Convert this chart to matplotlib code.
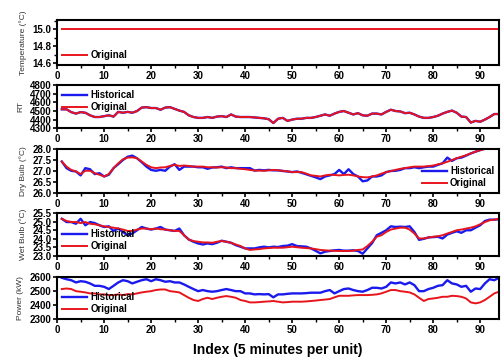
import numpy as np
import matplotlib
matplotlib.use("Agg")
import matplotlib.pyplot as plt
from matplotlib.ticker import MultipleLocator

plt.rcParams["font.family"] = ["Liberation Sans", "DejaVu Sans"]

# ==========================================================
# DATA (index 1..94, 5 minutes per unit)
# ==========================================================

index = list(range(1, 95))

temp_original = [15.0] * 94

rt_original = [
    4520, 4520, 4487, 4470, 4487, 4480, 4450, 4430, 4430, 4440,
    4450, 4435, 4490, 4480, 4490, 4480, 4500, 4540, 4545, 4535,
    4535, 4515, 4540, 4545, 4525, 4505, 4490, 4450, 4430, 4420,
    4420, 4430, 4420, 4435, 4440, 4430, 4460, 4435, 4430, 4430,
    4430, 4425, 4420, 4415, 4405, 4360, 4410, 4420, 4385, 4400,
    4410, 4410, 4420, 4420, 4430, 4445, 4460, 4445, 4470, 4490,
    4500, 4480, 4460, 4475, 4450, 4445, 4470, 4470, 4460, 4490,
    4515, 4500, 4495, 4475, 4480, 4460, 4435, 4420, 4420, 4430,
    4445, 4470, 4490, 4505, 4480, 4435, 4430, 4365, 4385, 4375,
    4400, 4430, 4465, 4465,
]
# historical RT lies under the original curve
rt_historical = list(rt_original)

dry_original = [
    27.43, 27.20, 27.05, 26.98, 26.86, 27.01, 27.01, 26.90, 26.83, 26.75,
    26.86, 27.13, 27.35, 27.53, 27.61, 27.62, 27.58, 27.43, 27.28, 27.17,
    27.13, 27.16, 27.17, 27.23, 27.28, 27.23, 27.25, 27.23, 27.20, 27.20,
    27.20, 27.17, 27.17, 27.16, 27.17, 27.16, 27.13, 27.13, 27.10, 27.08,
    27.05, 27.02, 27.02, 27.01, 27.03, 27.05, 27.03, 27.01, 26.98, 26.95,
    26.95, 26.95, 26.88, 26.80, 26.78, 26.75, 26.80, 26.83, 26.82, 26.80,
    26.82, 26.83, 26.80, 26.75, 26.72, 26.71, 26.75, 26.80, 26.88, 26.95,
    27.00, 27.05, 27.10, 27.13, 27.17, 27.20, 27.20, 27.20, 27.22, 27.25,
    27.30, 27.35, 27.42, 27.50, 27.58, 27.65, 27.72, 27.80, 27.88, 27.95,
    28.00, 28.03, 28.06, 28.10,
]
dry_historical = [
    27.43, 27.13, 27.01, 26.98, 26.80, 27.13, 27.08, 26.86, 26.90, 26.75,
    26.83, 27.13, 27.31, 27.50, 27.65, 27.70, 27.58, 27.40, 27.20, 27.05,
    27.01, 27.05, 27.01, 27.20, 27.31, 27.05, 27.20, 27.20, 27.20, 27.17,
    27.17, 27.10, 27.16, 27.17, 27.20, 27.13, 27.17, 27.13, 27.13, 27.13,
    27.13, 27.02, 27.05, 27.03, 27.05, 27.03, 27.03, 27.00, 26.98, 26.95,
    26.98, 26.92, 26.85, 26.78, 26.71, 26.63, 26.75, 26.80, 26.86, 27.05,
    26.86, 27.08, 26.86, 26.75, 26.53, 26.57, 26.75, 26.75, 26.80, 26.95,
    27.00, 27.01, 27.05, 27.13, 27.13, 27.17, 27.13, 27.17, 27.20, 27.20,
    27.28, 27.35, 27.61, 27.46, 27.58, 27.61, 27.70, 27.80, 27.88, 27.95,
    28.03, 28.03, 28.05, 28.08,
]

wet_original = [
    25.17, 25.04, 24.98, 24.98, 24.92, 24.98, 24.88, 24.85, 24.79, 24.73,
    24.69, 24.65, 24.60, 24.54, 24.46, 24.46, 24.54, 24.60, 24.60, 24.56,
    24.60, 24.56, 24.54, 24.50, 24.46, 24.46, 24.21, 23.96, 23.87, 23.83,
    23.79, 23.79, 23.77, 23.83, 23.87, 23.83, 23.77, 23.67, 23.58, 23.44,
    23.35, 23.38, 23.40, 23.44, 23.46, 23.48, 23.48, 23.48, 23.51, 23.54,
    23.51, 23.48, 23.46, 23.44, 23.40, 23.35, 23.33, 23.31, 23.30, 23.29,
    23.29, 23.29, 23.31, 23.35, 23.38, 23.58, 23.83, 24.12, 24.21, 24.40,
    24.54, 24.60, 24.65, 24.65, 24.54, 24.31, 24.02, 24.02, 24.08, 24.12,
    24.15, 24.21, 24.31, 24.40, 24.50, 24.54, 24.60, 24.65, 24.73, 24.85,
    24.98, 25.08, 25.12, 25.17,
]
wet_historical = [
    25.17, 24.98, 24.98, 24.88, 25.17, 24.79, 24.98, 24.92, 24.79, 24.69,
    24.73, 24.46, 24.60, 24.40, 24.21, 24.31, 24.50, 24.69, 24.60, 24.54,
    24.60, 24.69, 24.54, 24.50, 24.46, 24.60, 24.21, 23.96, 23.83, 23.73,
    23.67, 23.73, 23.69, 23.77, 23.89, 23.83, 23.77, 23.63, 23.54, 23.44,
    23.44, 23.44, 23.50, 23.54, 23.50, 23.54, 23.52, 23.58, 23.60, 23.69,
    23.58, 23.56, 23.54, 23.44, 23.30, 23.15, 23.25, 23.29, 23.33, 23.35,
    23.31, 23.31, 23.33, 23.29, 23.13, 23.44, 23.75, 24.21, 24.35, 24.50,
    24.73, 24.69, 24.71, 24.69, 24.73, 24.40, 23.94, 24.00, 24.08, 24.10,
    24.12, 24.02, 24.25, 24.35, 24.44, 24.35, 24.50, 24.50, 24.65, 24.79,
    25.04, 25.12, 25.12, 25.14,
]

power_historical = [
    2593, 2583, 2576, 2560, 2569, 2565, 2553, 2536, 2536, 2529,
    2513, 2536, 2560, 2576, 2569, 2553, 2565, 2576, 2583, 2569,
    2583, 2576, 2565, 2569, 2560, 2560, 2546, 2529, 2513, 2498,
    2506, 2498, 2494, 2498, 2506, 2513, 2506, 2498, 2498, 2482,
    2482, 2475, 2477, 2475, 2477, 2454, 2475, 2475, 2479, 2482,
    2482, 2482, 2484, 2487, 2487, 2487, 2498, 2506, 2482, 2498,
    2513, 2517, 2506, 2498, 2494, 2506, 2522, 2522, 2517, 2529,
    2560, 2553, 2560, 2546, 2560, 2541, 2498, 2498, 2513, 2522,
    2536, 2541, 2576, 2553, 2546, 2529, 2536, 2494, 2517, 2513,
    2553, 2583, 2576, 2593,
]
power_original = [
    2513, 2517, 2513, 2498, 2494, 2489, 2482, 2482, 2475, 2475,
    2470, 2470, 2475, 2470, 2477, 2475, 2482, 2489, 2494, 2498,
    2506, 2510, 2510, 2498, 2494, 2489, 2470, 2451, 2435, 2428,
    2442, 2451, 2442, 2451, 2458, 2463, 2458, 2451, 2435, 2428,
    2418, 2418, 2420, 2423, 2425, 2428, 2423, 2418, 2420, 2423,
    2423, 2423, 2425, 2428, 2431, 2435, 2438, 2442, 2454, 2465,
    2465, 2465, 2468, 2470, 2470, 2470, 2472, 2475, 2482, 2494,
    2506, 2506, 2498, 2494, 2489, 2475, 2451, 2428, 2442, 2446,
    2451, 2458, 2458, 2465, 2463, 2458, 2446, 2418, 2411, 2418,
    2435, 2458, 2482, 2494,
]

xticks = [0, 10, 20, 30, 40, 50, 60, 70, 80, 90]

# ==========================================================
# FIGURE
# ==========================================================

fig = plt.figure(figsize=(5.01, 3.60), dpi=100)

LEFT = 0.114
WIDTH = 0.882

panels = [
    # bottom, height, ylabel, ylim, major, minor, legend loc
    (0.819, 0.125, "Temperature (°C)", (14.576, 15.106), 0.2, 0.1, "lower left"),
    (0.644, 0.119, "RT", (4300, 4800), 100, None, "upper left"),
    (0.464, 0.122, "Dry Bulb (°C)", (26.0, 28.0), 0.5, None, "lower right"),
    (0.289, 0.119, "Wet Bulb (°C)", (23.0, 25.5), 0.5, None, "lower left"),
    (0.114, 0.117, "Power (kW)", (2300, 2600), 100, None, "lower left"),
]

series = [
    (None, temp_original),
    (rt_historical, rt_original),
    (dry_historical, dry_original),
    (wet_historical, wet_original),
    (power_historical, power_original),
]

BLUE = "#1a1aee"
RED = "#e8141c"

for (bottom, height, ylab, ylim, major, minor, loc), (hist, orig) in zip(panels, series):
    ax = fig.add_axes([LEFT, bottom, WIDTH, height])

    if hist is not None:
        ax.plot(index, hist, color=BLUE, linewidth=1.7, label="Historical")
    ax.plot(index, orig, color=RED, linewidth=1.4, label="Original")

    ax.set_xlim(0, 94)
    ax.set_ylim(*ylim)
    ax.set_xticks(xticks)
    ax.xaxis.set_minor_locator(MultipleLocator(5))
    ax.yaxis.set_major_locator(MultipleLocator(major))
    if minor:
        ax.yaxis.set_minor_locator(MultipleLocator(minor))

    fmt = "{:.1f}" if major < 1 else "{:.0f}"
    ax.set_yticklabels([fmt.format(v) for v in ax.get_yticks()])
    ax.set_ylim(*ylim)

    for s in ax.spines.values():
        s.set_linewidth(1.5)

    ax.tick_params(axis="both", which="major", direction="out", length=3,
                   width=1.2, labelsize=7, pad=1)
    ax.tick_params(axis="both", which="minor", direction="out", length=2,
                   width=1.0)
    for lbl in ax.get_xticklabels() + ax.get_yticklabels():
        lbl.set_fontweight("bold")

    ax.set_ylabel(ylab, fontsize=6, labelpad=4, color="#333333")

    leg = ax.legend(loc=loc, frameon=False, handlelength=2.6,
                    borderaxespad=0.1, labelspacing=0.2, handletextpad=0.3,
                    prop={"weight": "bold", "size": 7})

    if bottom < 0.2:
        ax.set_xlabel("Index (5 minutes per unit)", fontsize=10,
                      fontweight="bold", labelpad=6)

fig.savefig("out.png", dpi=100)
